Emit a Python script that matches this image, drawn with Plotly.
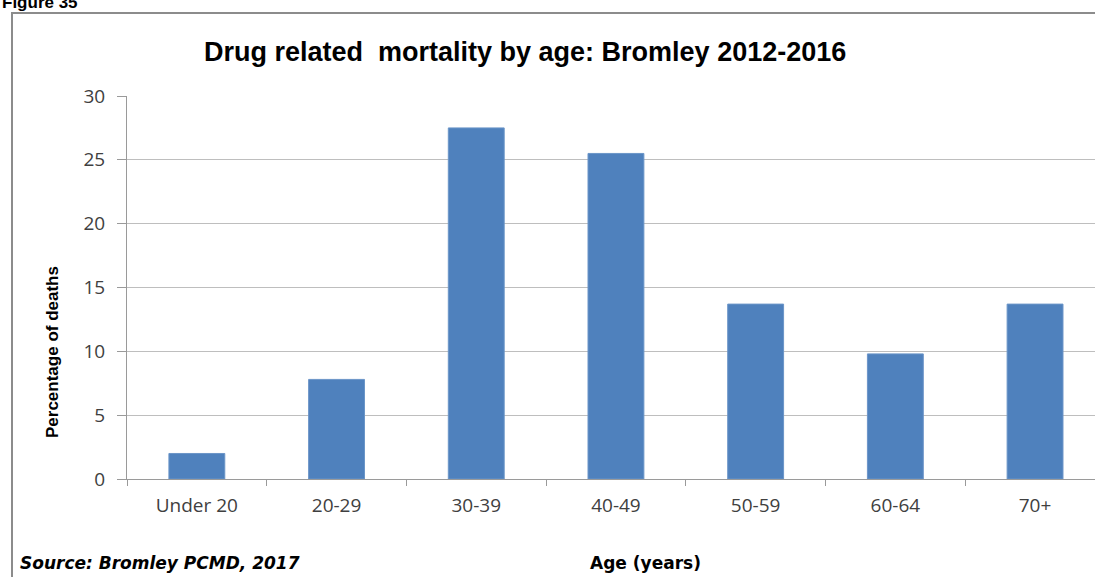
import plotly.graph_objects as go

# Daten: Anteil der Todesfälle je Altersgruppe
age_groups = ["Under 20", "20-29", "30-39", "40-49", "50-59", "60-64", "70+"]
pct_deaths = [2.0, 7.8, 27.5, 25.5, 13.7, 9.8, 13.7]
y_ticks = [0, 5, 10, 15, 20, 25, 30]

W, H = 1095, 577
L, R, T, B = 127, 0, 96, 98
pw, ph = W - L - R, H - T - B


def px_x(x):
    return (x - L) / pw


def px_y(y):
    return (H - B - y) / ph


fig = go.Figure()
fig.add_trace(go.Bar(
    x=age_groups,
    y=pct_deaths,
    width=0.4,
    marker=dict(color="#4F81BD", line=dict(color="#6B95C8", width=1)),
))

label_font = dict(family="Open Sans, Arial, sans-serif", size=19, color="#404040")

fig.update_layout(
    width=W, height=H,
    margin=dict(l=L, r=R, t=T, b=B),
    paper_bgcolor="white",
    plot_bgcolor="white",
    showlegend=False,
    xaxis=dict(
        range=[-0.5, -0.5 + pw / 139.7],
        tickson="boundaries",
        ticks="outside", ticklen=6, tickcolor="#9A9A9A",
        showline=True, linecolor="#9A9A9A", linewidth=1,
        showgrid=False,
        tickfont=label_font,
        ticklabelstandoff=9,
    ),
    yaxis=dict(
        range=[0, 30],
        tickvals=y_ticks,
        ticks="outside", ticklen=9, tickcolor="#9A9A9A",
        showline=True, linecolor="#9A9A9A", linewidth=1,
        gridcolor="#BEBEBE", gridwidth=1,
        tickfont=label_font,
        ticklabelstandoff=8,
        zeroline=False,
    ),
)

# Rahmen (links und oben)
fig.add_shape(type="path", xref="paper", yref="paper",
              path=f"M {px_x(12)},{px_y(600)} L {px_x(12)},{px_y(13)} L {px_x(1100)},{px_y(13)}",
              line=dict(color="#8C8C8C", width=2))

fig.add_annotation(text="<b>Figure 35</b>", xref="paper", yref="paper",
                   x=px_x(0), y=px_y(14), xanchor="left", yanchor="bottom",
                   showarrow=False,
                   font=dict(family="Liberation Sans, Arial, sans-serif", size=17, color="black"))

fig.add_annotation(text="<b>Drug related  mortality by age: Bromley 2012-2016</b>",
                   xref="paper", yref="paper", x=px_x(525), y=px_y(52),
                   xanchor="center", yanchor="middle", showarrow=False,
                   font=dict(family="Liberation Sans, Arial, sans-serif", size=27, color="black"))

fig.add_annotation(text="<b>Percentage of deaths</b>", xref="paper", yref="paper",
                   x=px_x(52), y=px_y(352), textangle=-90,
                   xanchor="center", yanchor="middle", showarrow=False,
                   font=dict(family="Liberation Sans, Arial, sans-serif", size=17, color="black"))

fig.add_annotation(text="<b><i>Source: Bromley PCMD, 2017</i></b>", xref="paper", yref="paper",
                   x=px_x(18), y=px_y(563), xanchor="left", yanchor="middle",
                   showarrow=False,
                   font=dict(family="DejaVu Sans, sans-serif", size=17, color="black"))

fig.add_annotation(text="<b>Age (years)</b>", xref="paper", yref="paper",
                   x=px_x(645), y=px_y(563), xanchor="center", yanchor="middle",
                   showarrow=False,
                   font=dict(family="DejaVu Sans, sans-serif", size=17, color="black"))

fig.write_html("out.html", config={"displayModeBar": False},
               post_script="document.body.style.margin='0';")
